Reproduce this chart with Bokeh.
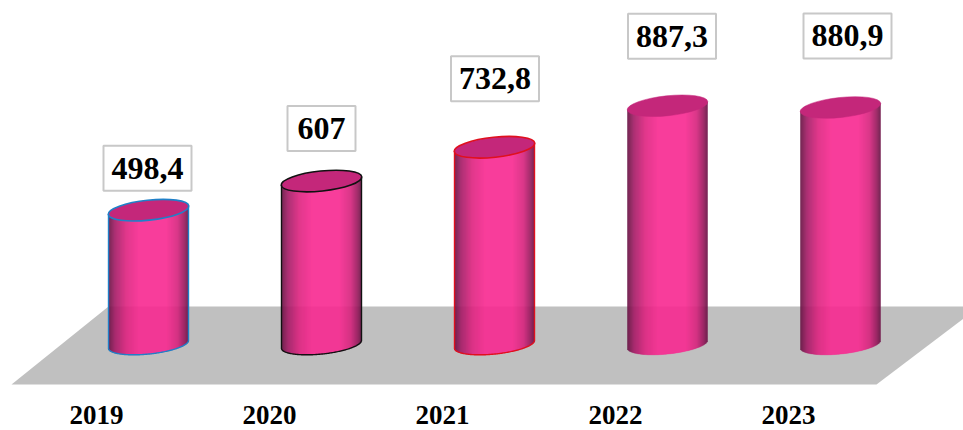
import math
from bokeh.plotting import figure
from bokeh.models import Range1d
from bokeh.core.properties import value
from bokeh.embed import file_html
from bokeh.resources import INLINE

years = ["2019", "2020", "2021", "2022", "2023"]
values = [498.4, 607, 732.8, 887.3, 880.9]
labels = ["498,4", "607", "732,8", "887,3", "880,9"]
outline = ["#1F80C8", "#111111", "#E0101E", None, None]

W, H = 963, 430
PX_PER_X, X0 = 173.0, 148.0
PX_PER_V, Y0 = 0.2685, 343.5

def xs(px): return (px - X0) / PX_PER_X
def ys(py): return (Y0 - py) / PX_PER_V
dX = 1 / PX_PER_X
dV = 1 / PX_PER_V

p = figure(width=W, height=H, output_backend="svg", toolbar_location=None,
           x_range=Range1d(xs(0), xs(W)), y_range=Range1d(ys(H), ys(0)),
           min_border=0, outline_line_color=None, background_fill_color="white")
p.axis.visible = False
p.grid.visible = False
p.styles = {"position": "absolute", "left": "0px", "top": "0px"}

# floor
p.patch([xs(11), xs(108), xs(963), xs(963), xs(876)],
        [ys(384), ys(306), ys(306), ys(318), ys(384)],
        fill_color="#C0C0C0", line_color=None)

A, B, TH = 40.5, 10.0, math.radians(6.0)

def arc(dx):
    """screen-up dy offsets (mid, lower) of the tilted ellipse at dx"""
    c, s = math.cos(TH), math.sin(TH)
    qa = s * s / A**2 + c * c / B**2
    qb = 2 * dx * (c * s / A**2 - s * c / B**2)
    qc = dx * dx * (c * c / A**2 + s * s / B**2) - 1
    d = max(qb * qb - 4 * qa * qc, 0)
    mid = -qb / (2 * qa)
    return mid, mid - math.sqrt(d) / (2 * qa)

def shade(t):
    stops = [(0, (105, 18, 68)), (0.08, (165, 28, 102)), (0.22, (222, 36, 128)),
             (0.38, (248, 42, 145)), (0.72, (248, 42, 145)), (0.86, (215, 36, 125)),
             (0.95, (150, 24, 92)), (1, (100, 18, 66))]
    for (t0, c0), (t1, c1) in zip(stops, stops[1:]):
        if t <= t1:
            f = (t - t0) / (t1 - t0)
            return "#%02x%02x%02x" % tuple(round(a + (b - a) * f) for a, b in zip(c0, c1))
    return "#641242"

SPAN = 40
off = list(range(-SPAN, SPAN))
for i, v in enumerate(values):
    left, right, top, bottom, colors = [], [], [], [], []
    for o in off:
        dx = o + 0.5
        mid, low = arc(dx)
        left.append(i + o * dX); right.append(i + (o + 1) * dX)
        top.append(v + mid * dV); bottom.append(low * dV)
        colors.append(shade((o + SPAN) / (2 * SPAN)))
    p.quad(left=left, right=right, top=top, bottom=bottom,
           fill_color=colors, line_color=colors, line_width=0.4)
    p.ellipse(x=[i], y=[v], width=[2 * A], height=[2 * B], angle=[TH],
              width_units="screen", height_units="screen",
              fill_color="#C4277A", line_color=outline[i] or "#C4277A",
              line_width=1.6 if outline[i] else 0.5)
    if outline[i]:
        ex = [-SPAN] + off[1:] + [SPAN]
        lx = [i + e * dX for e in ex]
        ly = [arc(e)[1] * dV for e in ex]
        tl, tr = arc(-SPAN)[0], arc(SPAN)[0]
        p.line(lx, ly, line_color=outline[i], line_width=1.4)
        p.line([i - SPAN * dX] * 2, [ly[0], v + tl * dV], line_color=outline[i], line_width=1.4)
        p.line([i + SPAN * dX] * 2, [ly[-1], v + tr * dV], line_color=outline[i], line_width=1.4)

# value labels
box_gap = [42, 52.5, 68.5, 69.5, 71.5]
box_w = [88, 68, 88, 88, 88]
box_dx = [-1, 0, 0.5, 4.5, 7]
bx = [i + d * dX for i, d in enumerate(box_dx)]
by = [v + g * dV for v, g in zip(values, box_gap)]
p.rect(x=bx, y=by, width=box_w, height=[45] * 5, width_units="screen", height_units="screen",
       fill_color="white", line_color="#C8C8C8", line_width=2)
p.text(x=bx, y=by, text=labels, text_font=value("Liberation Serif"), text_font_style="bold",
       text_font_size="32px", text_align="center", text_baseline="middle", text_color="black")

# category labels
p.text(x=list(range(5)), y=[ys(414)] * 5, text=years, x_offset=-52, text_font=value("Liberation Serif"),
       text_font_style="bold", text_font_size="27px", text_align="center",
       text_baseline="middle", text_color="black")

open("out.html", "w").write(file_html(p, INLINE))
